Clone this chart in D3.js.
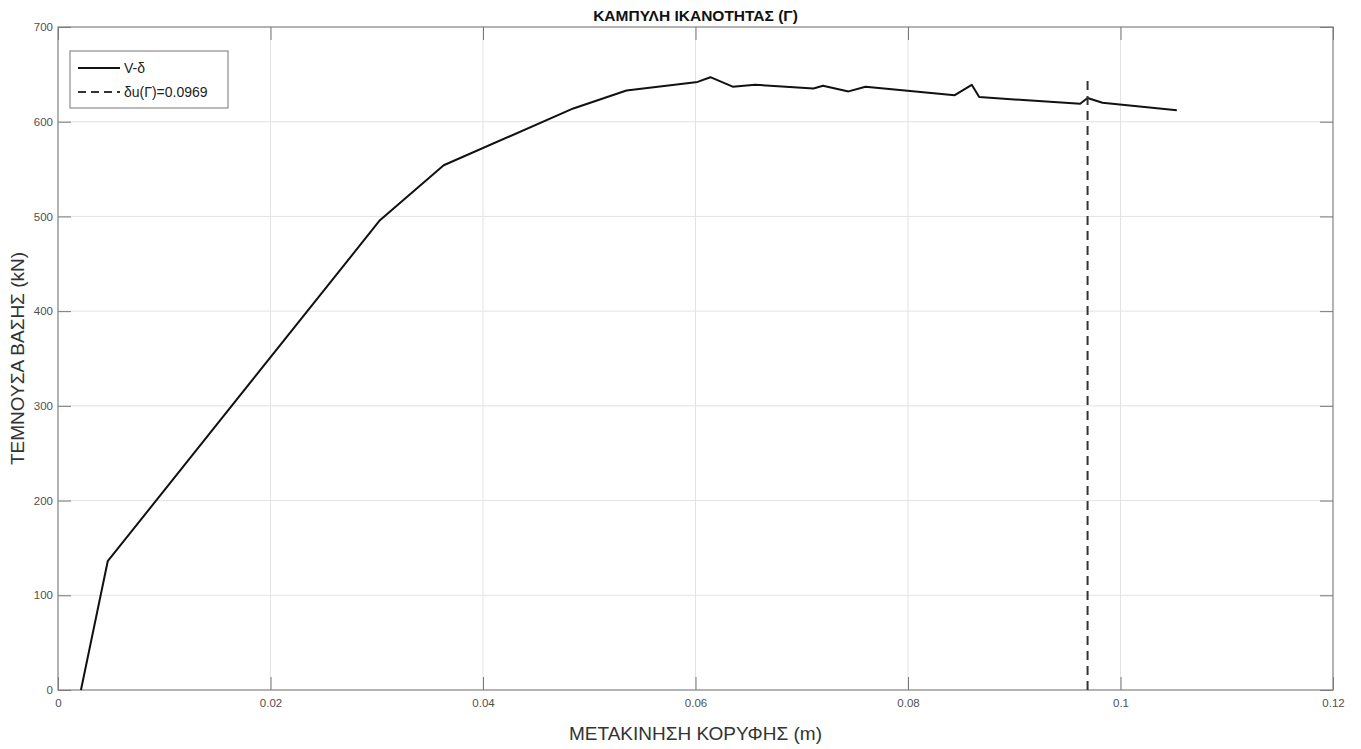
<!DOCTYPE html>
<html>
<head>
<meta charset="utf-8">
<script src="https://cdn.jsdelivr.net/npm/d3@7"></script>
<style>
  body { margin: 0; background: #fff; }
  svg { display: block; font-family: "Liberation Sans", Arial, sans-serif; }
</style>
</head>
<body>
<div id="chart"></div>
<script>
// pushover curve
const displacement = [0.00216, 0.00468, 0.0303, 0.0363, 0.0485, 0.0535, 0.0602, 0.0614, 0.0635, 0.0656,
  0.0711, 0.0720, 0.0744, 0.0760, 0.0844, 0.0860, 0.0867, 0.0962, 0.0969, 0.0983, 0.1053];
const baseShear = [0, 136, 496, 554, 614, 633, 642, 647, 637, 639,
  635, 638, 632, 637, 628, 639, 626, 619, 625, 620, 612];
const ultimateDisp = 0.0969;
const xTicks = [0, 0.02, 0.04, 0.06, 0.08, 0.1, 0.12];
const yTicks = [0, 100, 200, 300, 400, 500, 600, 700];

const width = 1361, height = 749;
const margin = {top: 27, right: 28, bottom: 59, left: 58};

const svg = d3.select("#chart").append("svg")
    .attr("width", width)
    .attr("height", height);

const x = d3.scaleLinear().domain([0, 0.12]).range([margin.left, width - margin.right]);
const y = d3.scaleLinear().domain([0, 700]).range([height - margin.bottom, margin.top]);

const points = displacement.map((d, i) => ({x: d, y: baseShear[i]}));

// grid
let grid = svg.append("g").attr("stroke", "#e3e3e3").attr("stroke-width", 1);
grid.selectAll(".gx").data(xTicks.slice(1, -1)).enter().append("line")
    .attr("x1", d => x(d)).attr("x2", d => x(d))
    .attr("y1", y(0)).attr("y2", y(700));
grid.selectAll(".gy").data(yTicks.slice(1, -1)).enter().append("line")
    .attr("x1", x(0)).attr("x2", x(0.12))
    .attr("y1", d => y(d)).attr("y2", d => y(d));

// axes with inward ticks
function styleAxis(g) {
    g.select(".domain").remove();
    g.selectAll(".tick line").attr("stroke", "#777");
    g.selectAll(".tick text").attr("fill", "#505050").attr("font-size", 11.5)
        .attr("font-family", "Liberation Sans, Arial, sans-serif");
}
svg.append("g")
    .attr("transform", "translate(0," + y(0) + ")")
    .call(d3.axisBottom(x).tickValues(xTicks).tickFormat(d => d3.format("")(+d.toFixed(2))).tickSize(-13).tickPadding(9))
    .call(styleAxis);
svg.append("g")
    .attr("transform", "translate(0," + y(700) + ")")
    .call(d3.axisTop(x).tickValues(xTicks).tickFormat("").tickSize(-13))
    .call(styleAxis);
svg.append("g")
    .attr("transform", "translate(" + x(0) + ",0)")
    .call(d3.axisLeft(y).tickValues(yTicks).tickSize(-13).tickPadding(5))
    .call(styleAxis);
svg.append("g")
    .attr("transform", "translate(" + x(0.12) + ",0)")
    .call(d3.axisRight(y).tickValues(yTicks).tickFormat("").tickSize(-13))
    .call(styleAxis);

// box
svg.append("rect")
    .attr("x", x(0)).attr("y", y(700))
    .attr("width", x(0.12) - x(0)).attr("height", y(0) - y(700))
    .attr("fill", "none").attr("stroke", "#808080").attr("stroke-width", 1.2);

// curve
svg.append("path")
    .datum(points)
    .attr("fill", "none")
    .attr("stroke", "#111")
    .attr("stroke-width", 2)
    .attr("stroke-linejoin", "round")
    .attr("d", d3.line().x(d => x(d.x)).y(d => y(d.y)));

// ultimate displacement
svg.append("line")
    .attr("x1", x(ultimateDisp)).attr("x2", x(ultimateDisp))
    .attr("y1", y(0)).attr("y2", y(d3.max(baseShear)))
    .attr("stroke", "#333").attr("stroke-width", 2)
    .attr("stroke-dasharray", "9,6");

// legend
const lg = svg.append("g").attr("transform", "translate(70,51)");
lg.append("rect").attr("width", 158).attr("height", 57)
    .attr("fill", "#fff").attr("stroke", "#777").attr("stroke-width", 1);
lg.append("line").attr("x1", 8).attr("x2", 50).attr("y1", 17).attr("y2", 17)
    .attr("stroke", "#111").attr("stroke-width", 2);
lg.append("line").attr("x1", 8).attr("x2", 50).attr("y1", 41).attr("y2", 41)
    .attr("stroke", "#333").attr("stroke-width", 2).attr("stroke-dasharray", "8,5");
lg.append("text").attr("x", 54).attr("y", 22).attr("font-size", 14).attr("fill", "#222").text("V-δ");
lg.append("text").attr("x", 54).attr("y", 46).attr("font-size", 14).attr("fill", "#222")
    .text("δu(Γ)=" + ultimateDisp);

// titles
svg.append("text")
    .attr("x", (x(0) + x(0.12)) / 2).attr("y", 20.5)
    .attr("text-anchor", "middle").attr("font-weight", "bold").attr("font-size", 15.5).attr("fill", "#111")
    .text("ΚΑΜΠΥΛΗ ΙΚΑΝΟΤΗΤΑΣ (Γ)");
svg.append("text")
    .attr("x", (x(0) + x(0.12)) / 2).attr("y", 740)
    .attr("text-anchor", "middle").attr("font-size", 19).attr("fill", "#333")
    .text("ΜΕΤΑΚΙΝΗΣΗ ΚΟΡΥΦΗΣ (m)");
svg.append("text")
    .attr("transform", "translate(24," + (y(0) + y(700)) / 2 + ") rotate(-90)")
    .attr("text-anchor", "middle").attr("font-size", 19).attr("fill", "#333")
    .text("ΤΕΜΝΟΥΣΑ ΒΑΣΗΣ (kN)");
</script>
</body>
</html>
